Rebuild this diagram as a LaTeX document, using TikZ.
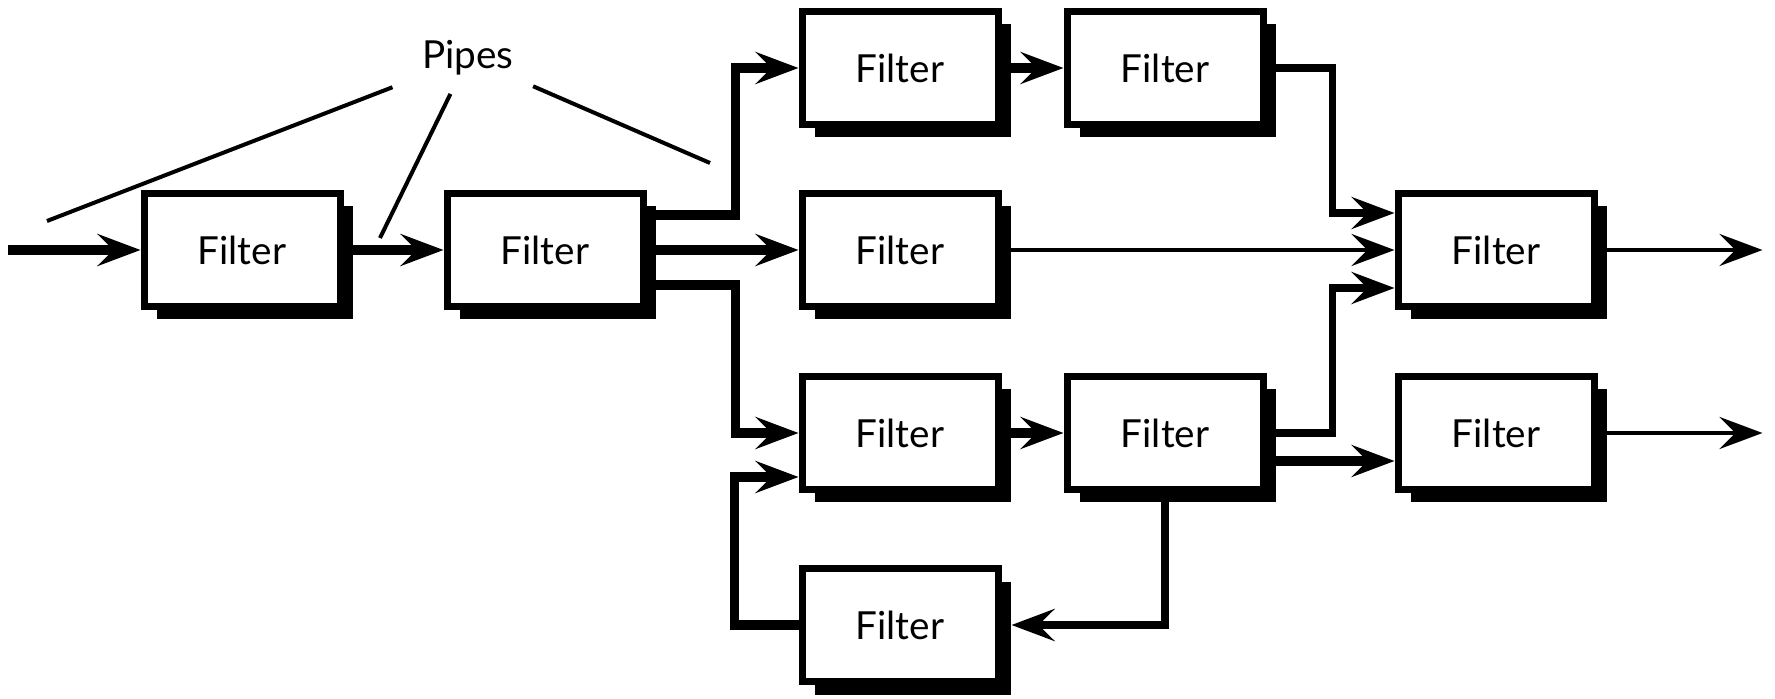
\documentclass[tikz,border=0pt]{standalone}
\usepackage{fontspec}
\setmainfont{Lato}
\usetikzlibrary{arrows.meta,positioning,shadows}

\begin{document}
\begin{tikzpicture}[
    font=\fontsize{22}{26}\selectfont,
    >={Stealth[length=0.86cm,width=0.64cm,inset=0.32cm]},
    filter/.style={draw,line width=0.14cm,fill=white,minimum width=3.92cm,minimum height=2.26cm,
        drop shadow={shadow xshift=0.26cm,shadow yshift=-0.26cm,opacity=1,fill=black}},
    pipe/.style={->,line width=0.19cm},
    link/.style={->,line width=0.15cm},
    thinlink/.style={->,line width=0.09cm},
    pointer/.style={line width=0.08cm}]
    \useasboundingbox (0,0) rectangle (35.5,-13.98);
    % filters
    \node[filter] (first) at (4.84,-5) {Filter};
    \node[filter,right=2cm of first] (second) {Filter};
    \node[filter,right=3.04cm of second] (mid) {Filter};
    \node[filter,above=1.24cm of mid] (upA) {Filter};
    \node[filter,right=1.24cm of upA] (upB) {Filter};
    \node[filter,below=1.26cm of mid] (lowA) {Filter};
    \node[filter,right=1.24cm of lowA] (lowB) {Filter};
    \node[filter,below=1.44cm of lowA] (loop) {Filter};
    \node[filter,right=7.86cm of mid] (merge) {Filter};
    \node[filter,right=2.56cm of lowB] (side) {Filter};
    % ends
    \coordinate[left=2.64cm of first] (src);
    \coordinate[right=3.3cm of merge] (out1);
    \coordinate[right=3.3cm of side] (out2);
    % label
    \node (pipes) at (9.36,-1.16) {Pipes};
    \coordinate (pin1) at (0.94,-4.42);
    \coordinate (pin2) at (7.6,-4.76);
    \coordinate (pin3) at (14.2,-3.26);
    \draw[pointer,shorten <=1.62cm] (pipes.center) -- (pin1);
    \draw[pointer,shorten <=0.8cm] (pipes.center) -- (pin2);
    \draw[pointer,shorten <=1.42cm] (pipes.center) -- (pin3);
    % pipes
    \draw[pipe] (src) -- (first);
    \draw[pipe] (first) -- (second);
    \draw[pipe] ([yshift=0.7cm]second.east) -- ++(1.78,0) |- (upA);
    \draw[pipe] (second) -- (mid);
    \draw[pipe] ([yshift=-0.7cm]second.east) -- ++(1.78,0) |- (lowA);
    \draw[pipe] (upA) -- (upB);
    \draw[link] (upB.east) -- ++(1.32,0) |- ([yshift=0.74cm]merge.west);
    \draw[thinlink] (mid) -- (merge);
    \draw[pipe] (lowA) -- (lowB);
    \draw[link] (lowB.east) -- ++(1.32,0) |- ([yshift=-0.76cm]merge.west);
    \draw[pipe] ([yshift=-0.56cm]lowB.east) -- ([yshift=-0.56cm]side.west);
    \draw[link] (lowB.south) |- ([xshift=0.2cm]loop.east);
    \draw[pipe] (loop.west) -- ++(-1.28,0) |- ([yshift=-0.88cm]lowA.west);
    \draw[thinlink] (merge) -- (out1);
    \draw[thinlink] (side) -- (out2);
\end{tikzpicture}
\end{document}
